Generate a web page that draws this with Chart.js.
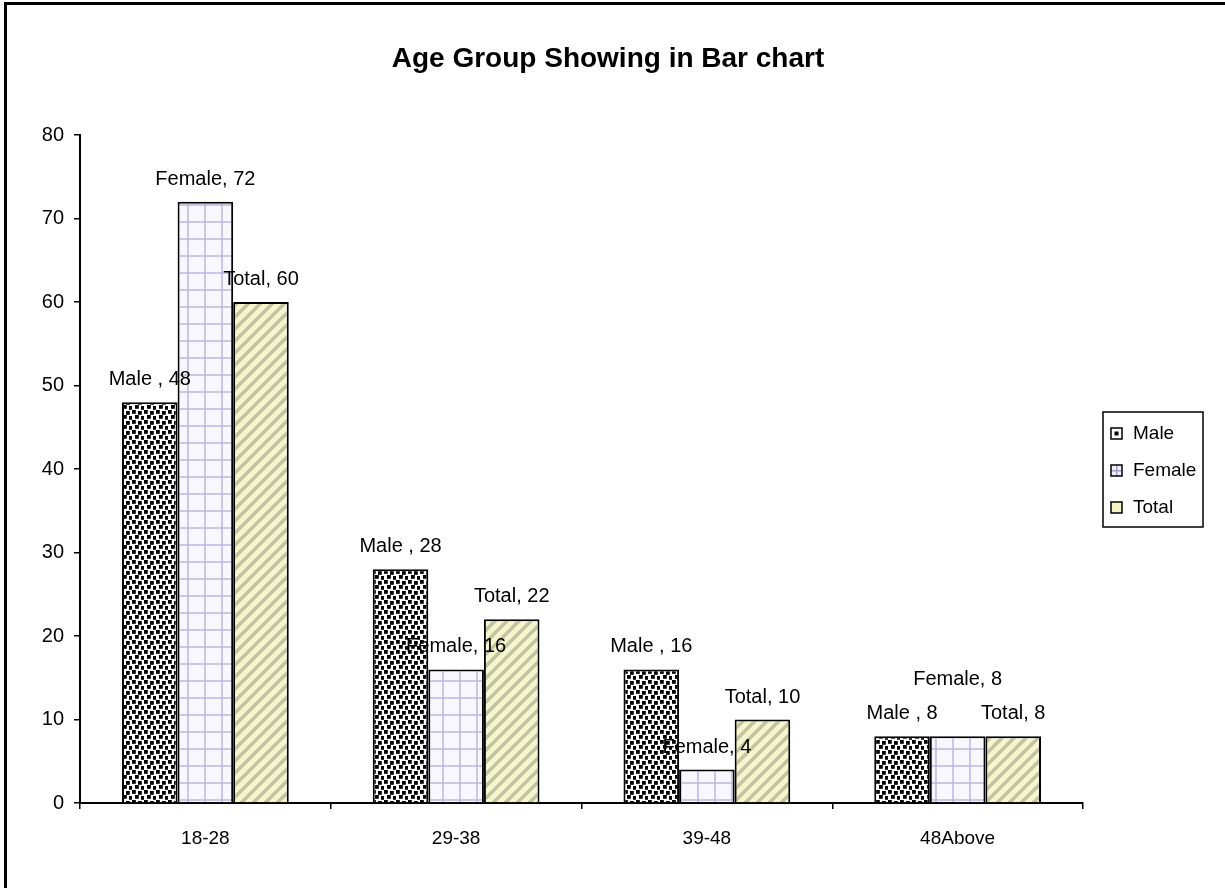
<!DOCTYPE html>
<html>
<head>
<meta charset="utf-8">
<script src="https://cdn.jsdelivr.net/npm/chart.js@4.4.1/dist/chart.umd.min.js"></script>
<style>
  html, body { margin: 0; padding: 0; background: #fff; overflow: hidden; }
  canvas { display: block; }
</style>
</head>
<body>
<canvas id="chart" width="1225" height="888"></canvas>
<script>
// Age groups and counts per series
const categories = ['18-28', '29-38', '39-48', '48Above'];
const seriesNames = ['Male', 'Female', 'Total'];
const labelPrefixes = ['Male ,', 'Female,', 'Total,'];
const maleValues = [48, 28, 16, 8];
const femaleValues = [72, 16, 4, 8];
const totalValues = [60, 22, 10, 8];
const yTickValues = [0, 10, 20, 30, 40, 50, 60, 70, 80];

const FONT = "'Liberation Sans', Arial, sans-serif";

// Small repeating tiles used as bar fills
function makeTile(w, h, draw) {
  const c = document.createElement('canvas');
  c.width = w; c.height = h;
  draw(c.getContext('2d'), w, h);
  return c;
}
const canvas = document.getElementById('chart');
const ctx = canvas.getContext('2d');

const dotTile = makeTile(12, 10, (g, w, h) => {
  g.fillStyle = '#fff'; g.fillRect(0, 0, w, h);
  g.fillStyle = '#000';
  [[0, 0], [6, 1], [3, 5], [9, 6]].forEach(([x, y]) => g.fillRect(x, y, 3.8, 3.8));
});
const gridTile = makeTile(17, 17, (g, w, h) => {
  g.fillStyle = '#f8f7fe'; g.fillRect(0, 0, w, h);
  g.fillStyle = 'rgba(185,178,220,0.7)';
  g.fillRect(0, 0, 2, h);
  g.fillRect(0, 0, w, 2);
});
const stripeTile = makeTile(12, 12, (g, w, h) => {
  g.fillStyle = '#f6f6cc'; g.fillRect(0, 0, w, h);
  g.strokeStyle = 'rgba(190,190,160,0.9)';
  g.lineWidth = 3.5;
  for (let k = -1; k <= 2; k++) {
    g.beginPath();
    g.moveTo(k * w - 2, h + 2);
    g.lineTo(k * w + w + 2, -2);
    g.stroke();
  }
});
const fills = [
  ctx.createPattern(dotTile, 'repeat'),
  ctx.createPattern(gridTile, 'repeat'),
  ctx.createPattern(stripeTile, 'repeat')
];

// Frame, title, value labels and boxed legend
const decorations = {
  id: 'decorations',
  afterDraw(chart) {
    const g = chart.ctx;
    g.save();
    // frame (top and left edges)
    g.fillStyle = '#000';
    g.fillRect(4, 2, 1225, 3);
    g.fillRect(4, 2, 3, 888);

    // title
    g.font = `bold 28px ${FONT}`;
    g.textAlign = 'center';
    g.textBaseline = 'alphabetic';
    g.fillText('Age Group Showing in Bar chart', 608, 67);

    // value labels above bars, lifted when they would collide
    g.font = `20px ${FONT}`;
    const placed = [];
    const nData = chart.data.labels.length;
    for (let i = 0; i < nData; i++) {
      chart.data.datasets.forEach((ds, di) => {
        const bar = chart.getDatasetMeta(di).data[i];
        const text = `${labelPrefixes[di]} ${ds.data[i]}`;
        const w = g.measureText(text).width;
        let base = bar.y - 17;
        const box = () => ({ l: bar.x - w / 2, r: bar.x + w / 2, t: base - 16, b: base + 3 });
        let b = box();
        for (const p of placed) {
          if (b.l < p.r && b.r > p.l && b.t < p.b && b.b > p.t) {
            base -= 34; b = box();
          }
        }
        placed.push(b);
        g.fillStyle = '#000';
        g.fillText(text, bar.x, base);
      });
    }

    // legend
    const lx = 1103, ly = 412, lw = 100, lh = 115;
    g.lineWidth = 1.5;
    g.strokeStyle = '#000';
    g.strokeRect(lx, ly, lw, lh);
    g.textAlign = 'left';
    g.textBaseline = 'middle';
    g.font = `19px ${FONT}`;
    const swatchFill = ['#fff', '#f1effb', '#f3f3c6'];
    chart.data.datasets.forEach((ds, di) => {
      const cy = ly + 21 + di * 37;
      const sx = lx + 8, sy = cy - 5;
      g.fillStyle = swatchFill[di];
      g.fillRect(sx, sy, 11, 11);
      if (di === 0) { g.fillStyle = '#000'; g.fillRect(sx + 3.5, sy + 3.5, 4, 4); }
      if (di === 1) {
        g.fillStyle = 'rgba(150,140,200,0.8)';
        g.fillRect(sx + 5, sy, 1.5, 11);
        g.fillRect(sx, sy + 5, 11, 1.5);
      }
      g.lineWidth = 1.5;
      g.strokeStyle = '#000';
      g.strokeRect(sx, sy, 11, 11);
      g.fillStyle = '#000';
      g.fillText(ds.label, lx + 30, cy + 1);
    });
    g.restore();
  }
};

const seriesValues = [maleValues, femaleValues, totalValues];

new Chart(ctx, {
  type: 'bar',
  data: {
    labels: categories,
    datasets: seriesNames.map((name, i) => ({
      label: name,
      data: seriesValues[i],
      backgroundColor: fills[i],
      borderColor: '#000',
      borderWidth: 2,
      categoryPercentage: 0.665,
      barPercentage: 1
    }))
  },
  options: {
    responsive: false,
    animation: false,
    devicePixelRatio: 1,
    layout: { padding: { top: 135, right: 142, left: 0, bottom: 0 } },
    plugins: { legend: { display: false }, title: { display: false }, tooltip: { enabled: false } },
    scales: {
      x: {
        offset: true,
        grid: { offset: true, drawOnChartArea: false, drawTicks: true, tickLength: 6, color: '#000', lineWidth: 1.5 },
        border: { display: true, color: '#000', width: 2 },
        ticks: { color: '#000', font: { family: FONT, size: 19 }, padding: 18, maxRotation: 0 },
        afterFit(scale) { scale.height = 85; }
      },
      y: {
        min: 0,
        max: 80,
        afterBuildTicks(scale) { scale.ticks = yTickValues.map(v => ({ value: v })); },
        grid: { drawOnChartArea: false, drawTicks: true, tickLength: 6, color: '#000', lineWidth: 1.5 },
        border: { display: true, color: '#000', width: 2 },
        ticks: { color: '#000', font: { family: FONT, size: 20 }, padding: 10 },
        afterFit(scale) { scale.width = 80; }
      }
    }
  },
  plugins: [decorations]
});
</script>
</body>
</html>
